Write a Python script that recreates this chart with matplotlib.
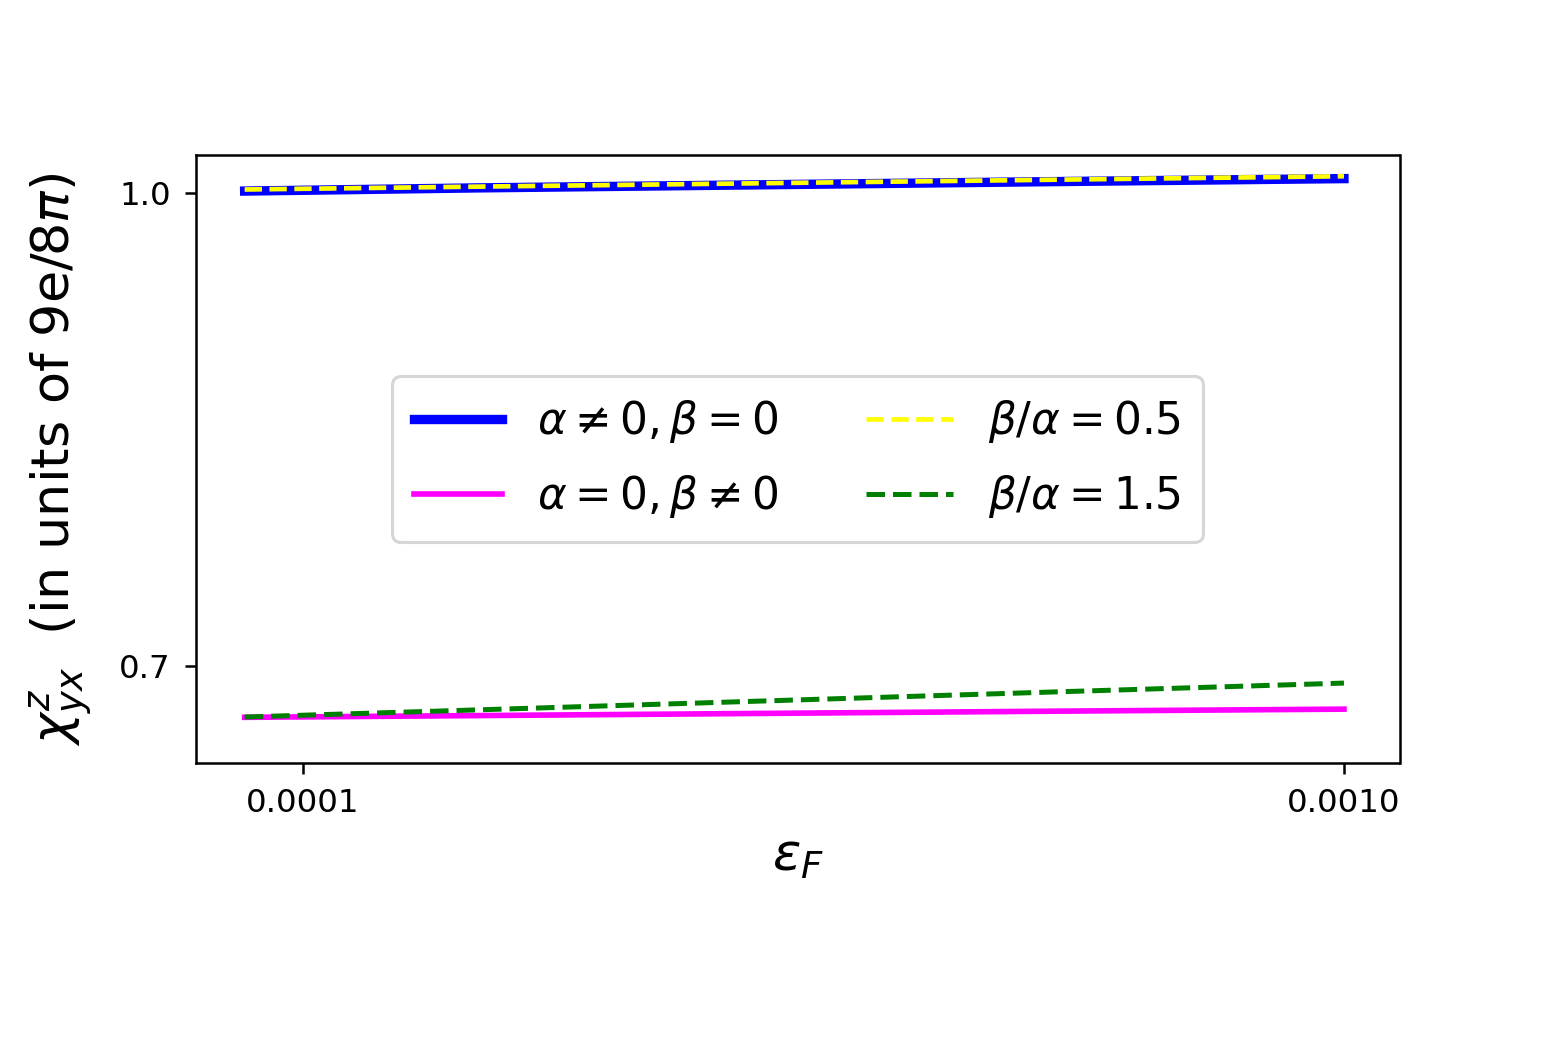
import numpy as np
import matplotlib.pyplot as plt
from matplotlib.ticker import FormatStrFormatter

# Fermi energy samples
eps_F = [0.00005, 0.00025, 0.0005, 0.00075, 0.001]

# chi^z_yx in units of 9e/8pi
chi_alpha_only = [1.0010, 1.0030, 1.0050, 1.0070, 1.0089]
chi_beta_only = [0.6675, 0.6686, 0.6700, 0.6714, 0.6727]
chi_ratio_05 = [1.0020, 1.0038, 1.0060, 1.0082, 1.0104]
chi_ratio_15 = [0.6677, 0.6722, 0.6779, 0.6836, 0.6892]

labels = [r'$\alpha \neq 0, \beta = 0$', r'$\alpha = 0, \beta \neq 0$',
          r'$\beta/\alpha = 0.5$', r'$\beta/\alpha = 1.5$']

fig = plt.figure(figsize=(1555 / 225, 1054 / 225), dpi=225)
ax = fig.add_axes([0.126, 0.276, 0.774, 0.577])

ax.plot(eps_F, chi_alpha_only, color='blue', lw=3, label=labels[0])
ax.plot(eps_F, chi_beta_only, color='magenta', lw=1.8, label=labels[1])
ax.plot(eps_F, chi_ratio_05, color='yellow', lw=1.5, ls='--', label=labels[2])
ax.plot(eps_F, chi_ratio_15, color='green', lw=1.6, ls='--', label=labels[3])

ax.set_xlim(0.0000079, 0.001048)
ax.set_ylim(0.6385, 1.0239)
ax.set_xticks([0.0001, 0.001])
ax.xaxis.set_major_formatter(FormatStrFormatter('%.4f'))
ax.set_yticks([0.7, 1.0])
ax.tick_params(labelsize=10.4, pad=4.5)

ax.set_xlabel(r'$\epsilon_F$', fontsize=16.8)
ax.set_ylabel(r'$\chi^z_{yx}$  (in units of 9e/8$\pi$)', fontsize=16.8, labelpad=7.5)
ax.legend(loc='center', ncol=2, fontsize=14, labelspacing=0.64, borderpad=0.5)

fig.savefig('out.png', dpi=225)
